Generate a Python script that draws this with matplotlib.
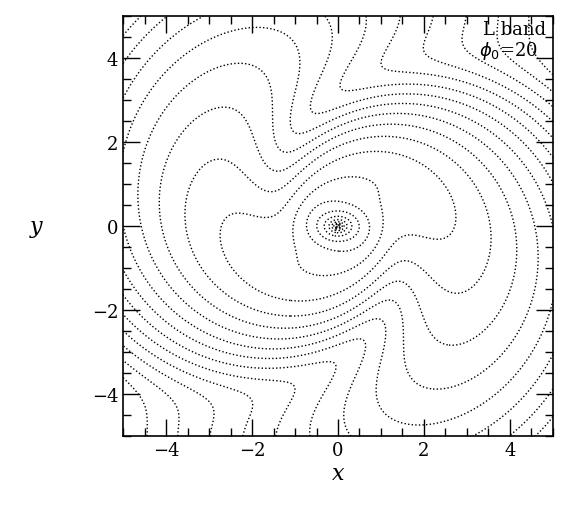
import numpy as np
import matplotlib
matplotlib.use("Agg")
import matplotlib.pyplot as plt
from matplotlib.ticker import MultipleLocator

# --- model parameters ---
x_range = [-5.0, 5.0]
y_range = [-5.0, 5.0]
bulge_amp = [1.4]
bulge_slope = [1.2]
bulge_cut = [2.0]
core_axes = [1.0, 0.74]
disk_width = [2.5]
arm_eps = [0.85]
arm_inner = [1.5]
pitch_deg = [38.0]
arm_phase = [3.4]
level_step = [0.45]
level_start = [-5.0]
x_ticks = [-4, -2, 0, 2, 4]
y_ticks = [-4, -2, 0, 2, 4]
annot = ["L band", r"$\phi_0$=20"]

n = 700
xs = np.linspace(x_range[0], x_range[1], n)
ys = np.linspace(y_range[0], y_range[1], n)
X, Y = np.meshgrid(xs, ys)
R = np.hypot(X, Y) + 1e-6
T = np.arctan2(Y, X)
Re = np.hypot(X / core_axes[0], Y / core_axes[1]) + 1e-6
mk = 2.0 / np.tan(np.radians(pitch_deg[0]))
eps = arm_eps[0] * (1 - np.exp(-(R / arm_inner[0]) ** 2))
disk = np.exp(-R ** 2 / (2 * disk_width[0] ** 2)) * (1 + eps * np.cos(2 * T + mk * np.log(R) + arm_phase[0]))
bulge = bulge_amp[0] * Re ** (-bulge_slope[0]) * np.exp(-(Re / bulge_cut[0]) ** 2)
F = np.clip(-np.log(bulge + disk), level_start[0], None)
levels = np.arange(level_start[0], F.max() + level_step[0], level_step[0])

fig = plt.figure(figsize=(5.70, 5.06), dpi=100)
ax = fig.add_axes([0.216, 0.136, 0.754, 0.830])
ax.contour(X, Y, F, levels=levels, colors="black", linewidths=1.0,
           linestyles=[(0, (1, 1.6))])
ax.set_xlim(*x_range)
ax.set_ylim(*y_range)
ax.set_xticks(x_ticks)
ax.set_yticks(y_ticks)
ax.xaxis.set_minor_locator(MultipleLocator(0.5))
ax.yaxis.set_minor_locator(MultipleLocator(0.5))
ax.tick_params(which="both", direction="in", top=True, right=True, labelsize=13)
ax.tick_params(which="major", length=12, width=1.0)
ax.tick_params(which="minor", length=6, width=1.0)
for lab in ax.get_xticklabels() + ax.get_yticklabels():
    lab.set_family("DejaVu Serif")
for s in ax.spines.values():
    s.set_linewidth(1.2)
ax.set_xlabel("x", fontsize=16, style="italic", family="DejaVu Serif", labelpad=2)
ax.set_ylabel("y", fontsize=16, style="italic", family="DejaVu Serif", rotation=0, labelpad=40, va="center")
ax.text(0.985, 0.99, annot[0], transform=ax.transAxes, ha="right", va="top", fontsize=13, family="DejaVu Serif")
ax.text(0.965, 0.945, annot[1], transform=ax.transAxes, ha="right", va="top", fontsize=13, family="DejaVu Serif")
fig.savefig("out.png", dpi=100)
